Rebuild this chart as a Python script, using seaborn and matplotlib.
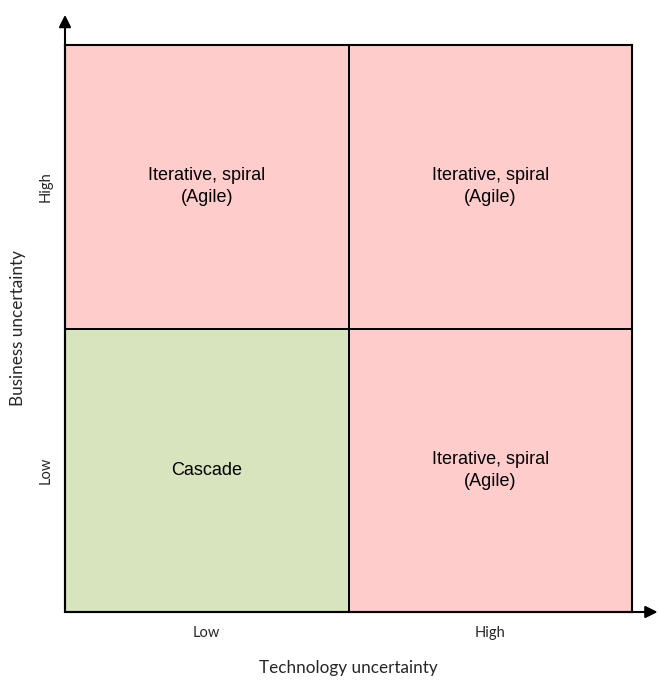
import numpy as np
import pandas as pd
import matplotlib
matplotlib.use("Agg")
import matplotlib.pyplot as plt
import seaborn as sb
from matplotlib.colors import ListedColormap

# data
tech_levels = ["Low", "High"]
business_levels = ["High", "Low"]   # top row first
method_code = [[1, 1],
               [0, 1]]               # 1 = agile, 0 = cascade
cell_text = [["Iterative, spiral\n(Agile)", "Iterative, spiral\n(Agile)"],
             ["Cascade", "Iterative, spiral\n(Agile)"]]

sb.set_style("white")
plt.rcParams['font.family'] = ['Lato', 'DejaVu Sans']

df = pd.DataFrame(method_code, index=business_levels, columns=tech_levels)
annot = np.array(cell_text)

fig = plt.figure(figsize=(6.58, 6.80), dpi=100)
W, H = 658, 680
ax = fig.add_axes([65 / W, (H - 612) / H, (632 - 65) / W, (612 - 45) / H])

sb.heatmap(df, ax=ax, cmap=ListedColormap(['#D7E4BD', '#FFCCCC']), cbar=False,
           annot=annot, fmt='', linewidths=1.3, linecolor='black',
           annot_kws={'fontsize': 13, 'family': 'Liberation Sans', 'color': 'black',
                      'linespacing': 1.4})

for s in ax.spines.values():
    s.set_visible(True)
    s.set_color('black')
    s.set_linewidth(1.5)

ax.tick_params(axis='both', length=0, labelsize=10.5)
ax.tick_params(axis='x', pad=10)
ax.tick_params(axis='y', pad=9)
plt.setp(ax.get_yticklabels(), rotation=90, va='center')
ax.set_xlabel("Technology uncertainty", fontsize=12.3)
ax.set_ylabel("Business uncertainty", fontsize=12.3)
ax.xaxis.set_label_coords(0.5, (612 - 668) / 567)
ax.xaxis.label.set_va('center')
ax.yaxis.set_label_coords((18 - 65) / 567, 0.5)
ax.yaxis.label.set_ha('center')
ax.yaxis.label.set_va('center')

# axis arrows
ax.annotate('', xy=(0, 1.058), xytext=(0, 0), xycoords='axes fraction',
            arrowprops=dict(arrowstyle='-|>', color='black', lw=1.5, mutation_scale=18))
ax.annotate('', xy=(1.05, 0), xytext=(0, 0), xycoords='axes fraction',
            arrowprops=dict(arrowstyle='-|>', color='black', lw=1.5, mutation_scale=18))

fig.savefig('out.png', dpi=100)
